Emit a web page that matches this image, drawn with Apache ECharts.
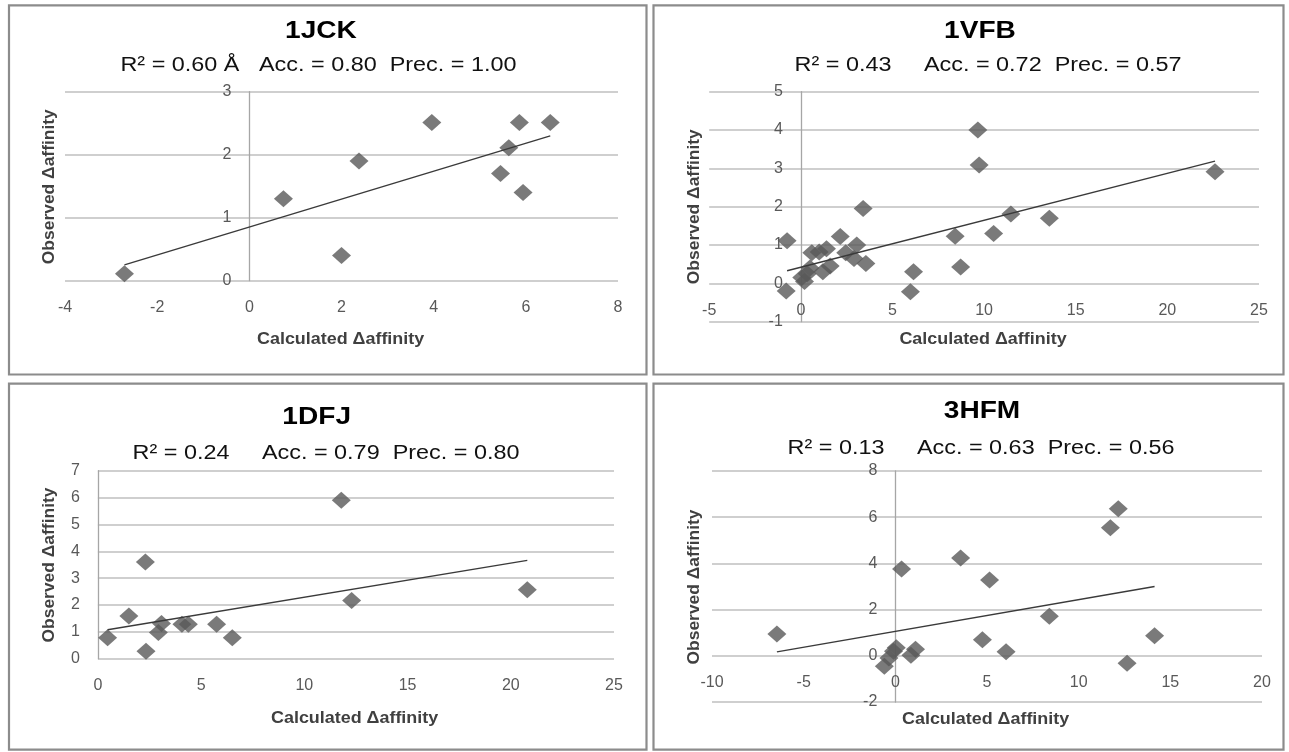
<!DOCTYPE html>
<html><head><meta charset="utf-8">
<script src="https://cdn.jsdelivr.net/npm/echarts@6/dist/echarts.min.js"></script>
<style>html,body{margin:0;padding:0;background:#fff}#c{width:1289px;height:752px}</style>
</head><body><div id="c"></div>
<script>
// ---------- DATA ----------
const panelNames = ['1JCK', '1VFB', '1DFJ', '3HFM'];
const statLines = [
  'R\u00B2 = 0.60 \u00C5   Acc. = 0.80  Prec. = 1.00',
  'R\u00B2 = 0.43     Acc. = 0.72  Prec. = 0.57',
  'R\u00B2 = 0.24     Acc. = 0.79  Prec. = 0.80',
  'R\u00B2 = 0.13     Acc. = 0.63  Prec. = 0.56'
];
const xAxisName = 'Calculated \u0394affinity';
const yAxisName = 'Observed \u0394affinity';

// axis ranges (tick labels)
const xMin = [-4, -5, 0, -10];
const xMax = [8, 25, 25, 20];
const xStep = [2, 5, 5, 5];
const yMin = [0, -1, 0, -2];
const yMax = [3, 5, 7, 8];
const yStep = [1, 1, 1, 2];

// 1JCK
const jckCalc = [-2.71, 0.74, 2.0, 2.38, 3.96, 5.45, 5.63, 5.86, 5.94, 6.53];
const jckObs  = [0.11, 1.30, 0.40, 1.90, 2.51, 1.70, 2.11, 2.51, 1.40, 2.51];
const jckTrendX = [-2.71, 6.53];
const jckTrendY = [0.25, 2.30];

// 1VFB
const vfbCalc = [-0.75, -0.8, 0.05, 0.2, 0.35, 0.5, 0.6, 1.0, 1.4, 1.2, 1.6, 2.15, 2.45, 2.9, 3.05, 3.4, 3.55,
                 5.98, 6.15, 8.42, 8.72, 9.66, 9.73, 10.52, 11.46, 13.56, 22.6];
const vfbObs  = [1.11, -0.2, 0.15, 0.05, 0.25, 0.4, 0.8, 0.82, 0.9, 0.3, 0.45, 1.22, 0.8, 0.65, 1.0, 1.95, 0.52,
                 -0.22, 0.30, 1.23, 0.43, 4.0, 3.09, 1.30, 1.81, 1.70, 2.91];
const vfbTrendX = [-0.75, 22.6];
const vfbTrendY = [0.33, 3.19];

// 1DFJ
const dfjCalc = [0.47, 1.5, 2.3, 2.33, 2.93, 3.08, 4.07, 4.38, 5.75, 6.51, 11.79, 12.29, 20.8];
const dfjObs  = [0.78, 1.59, 3.60, 0.28, 0.98, 1.31, 1.28, 1.28, 1.28, 0.78, 5.90, 2.17, 2.57];
const dfjTrendX = [0.47, 20.8];
const dfjTrendY = [1.08, 3.66];

// 3HFM
const hfmCalc = [-6.46, -0.6, -0.35, -0.1, 0.05, 0.34, 0.85, 1.1, 3.56, 4.75, 5.14, 6.04, 8.4, 11.73, 12.16, 12.64, 14.14];
const hfmObs  = [0.94, -0.45, -0.1, 0.2, 0.35, 3.76, 0.02, 0.28, 4.23, 0.69, 3.28, 0.17, 1.71, 5.54, 6.37, -0.32, 0.87];
const hfmTrendX = [-6.46, 14.14];
const hfmTrendY = [0.17, 3.0];

const calcSets = [jckCalc, vfbCalc, dfjCalc, hfmCalc];
const obsSets = [jckObs, vfbObs, dfjObs, hfmObs];
const trendXs = [jckTrendX, vfbTrendX, dfjTrendX, hfmTrendX];
const trendYs = [jckTrendY, vfbTrendY, dfjTrendY, hfmTrendY];

// ---------- LAYOUT ----------
const grids = [
  {left: 65, top: 91.7, width: 553, height: 189},
  {left: 709.2, top: 91.7, width: 549.8, height: 230},
  {left: 97.9, top: 470.7, width: 516.1, height: 188},
  {left: 712, top: 471, width: 550, height: 231}
];
const boxes = [
  [9, 5.3, 637.5, 369.2],
  [653.5, 5.3, 630, 369.2],
  [9, 383.7, 637.5, 366],
  [653.5, 383.7, 630, 366]
];
const titlePos = [[321, 31.7], [980, 31.7], [316.7, 417.7], [982, 411]];
const subPos = [[318.5, 65.7], [988, 65.7], [326, 453], [981, 448]];
const xNamePos = [[340.6, 339.3], [983, 339.3], [354.6, 718.7], [985.6, 719.7]];
const yNamePos = [[49.4, 186.7], [694.4, 206.7], [49.4, 565], [695, 587]];

const FONT = '"Liberation Sans", Arial, sans-serif';
const gridColor = '#bfbfbf';
const markerColor = '#595959';

const option = {
  backgroundColor: '#ffffff',
  animation: false,
  grid: grids.map(g => Object.assign({containLabel: false}, g)),
  xAxis: grids.map((g, i) => ({
    type: 'value', gridIndex: i, min: xMin[i], max: xMax[i], interval: xStep[i],
    position: 'bottom', offset: 0,
    axisLine: {show: false, onZero: false},
    axisTick: {show: false},
    splitLine: {show: false},
    axisLabel: {color: '#595959', fontFamily: FONT, fontSize: 16, margin: 19}
  })),
  yAxis: grids.map((g, i) => ({
    type: 'value', gridIndex: i, min: yMin[i], max: yMax[i], interval: yStep[i],
    position: 'left', offset: 0,
    axisLine: {show: true, onZero: false, lineStyle: {color: '#a6a6a6', width: 1.3}},
    axisTick: {show: false},
    splitLine: {show: true, lineStyle: {color: gridColor, width: 1.6}},
    axisLabel: {color: '#595959', fontFamily: FONT, fontSize: 16, margin: 18}
  })),
  series: [],
  graphic: []
};

for (let i = 0; i < 4; i++) {
  option.series.push({
    type: 'scatter', xAxisIndex: i, yAxisIndex: i, symbol: 'diamond', symbolSize: [19, 17],
    itemStyle: {color: markerColor},
    data: calcSets[i].map((x, k) => [x, obsSets[i][k]]), z: 3
  });
  option.series.push({
    type: 'line', xAxisIndex: i, yAxisIndex: i, symbol: 'none', silent: true,
    lineStyle: {color: '#3a3a3a', width: 1.4},
    data: trendXs[i].map((x, k) => [x, trendYs[i][k]]), z: 4
  });
  const b = boxes[i];
  option.graphic.push({
    type: 'rect', shape: {x: b[0], y: b[1], width: b[2], height: b[3]},
    style: {fill: null, stroke: '#8c8c8c', lineWidth: 2.2}, z: 0
  });
  option.graphic.push({
    type: 'text', x: titlePos[i][0], y: titlePos[i][1], scaleX: 1.17,
    style: {text: panelNames[i], font: 'bold 24px ' + FONT, fill: '#000', textAlign: 'center', textVerticalAlign: 'middle'}
  });
  option.graphic.push({
    type: 'text', x: subPos[i][0], y: subPos[i][1], scaleX: 1.17,
    style: {text: statLines[i], font: '20px ' + FONT, fill: '#111', textAlign: 'center', textVerticalAlign: 'middle'}
  });
  option.graphic.push({
    type: 'text', x: xNamePos[i][0], y: xNamePos[i][1], scaleX: 1.12,
    style: {text: xAxisName, font: 'bold 16px ' + FONT, fill: '#404040', textAlign: 'center', textVerticalAlign: 'middle'}
  });
  option.graphic.push({
    type: 'text', x: yNamePos[i][0], y: yNamePos[i][1], rotation: Math.PI / 2, scaleX: 1.09,
    style: {text: yAxisName, font: 'bold 16px ' + FONT, fill: '#404040', textAlign: 'center', textVerticalAlign: 'middle'}
  });
}

const chart = echarts.init(document.getElementById('c'), null, {renderer: 'canvas'});
chart.setOption(option);

// Move axes (line + labels) so they cross at zero, Excel-style, using the library's own scales.
const xOff = [], yOff = [];
for (let i = 0; i < 4; i++) {
  const g = grids[i];
  const px0 = chart.convertToPixel({xAxisIndex: i}, 0);
  const py0 = chart.convertToPixel({yAxisIndex: i}, 0);
  yOff.push({offset: -(px0 - g.left)});
  xOff.push({offset: -((g.top + g.height) - py0)});
}
chart.setOption({xAxis: xOff, yAxis: yOff});
</script>
</body></html>
